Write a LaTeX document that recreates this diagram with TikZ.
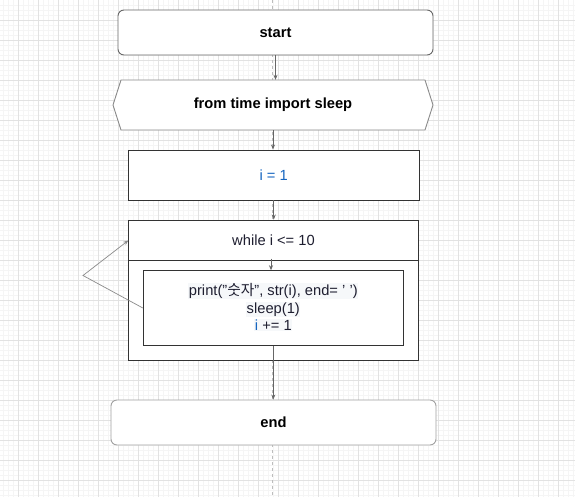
\documentclass[tikz,border=0pt]{standalone}
\usepackage{fontspec}
\setmainfont{Liberation Sans}
\newfontfamily\krfont{Noto Sans CJK KR}
\usetikzlibrary{arrows.meta}
\definecolor{gridmajor}{HTML}{E2E2E2}
\definecolor{gridminor}{HTML}{F5F5F5}
\definecolor{pagebreak}{HTML}{BDBDBD}
\definecolor{boxline}{HTML}{333333}
\definecolor{softline}{HTML}{8A8A8A}
\definecolor{arrowline}{HTML}{666666}
\definecolor{txtdark}{HTML}{1E1E30}
\definecolor{txtblue}{HTML}{1565C0}
\definecolor{codebg}{HTML}{F6F8FA}
\tikzset{
  plainbox/.style={draw=boxline, fill=white, line width=0.9pt, inner sep=0pt},
  roundbox/.style={draw=softline, fill=white, line width=0.9pt, rounded corners=6pt, inner sep=0pt},
  flowarrow/.style={draw=arrowline, line width=0.7pt, -{Stealth[length=5pt,width=4pt]}},
  lbl/.style={font=\fontsize{14.7}{17.5}\selectfont, text=txtdark, align=center},
  boldlbl/.style={font=\fontsize{14.7}{17.5}\selectfont\bfseries, text=black, align=center}
}
\newcommand{\cb}[1]{{\setlength{\fboxsep}{0.5pt}\colorbox{codebg}{#1}}}
\begin{document}
\begin{tikzpicture}[x=1pt,y=-1pt]
\useasboundingbox (0,0) rectangle (575,497);
\fill[white] (0,0) rectangle (575,497);
% grid
\foreach \gx in {3,8,...,573} \draw[gridminor, line width=0.5pt] (\gx,0) -- (\gx,497);
\foreach \gy in {5,10,...,495} \draw[gridminor, line width=0.5pt] (0,\gy) -- (575,\gy);
\foreach \gx in {18,38,...,570} \draw[gridmajor, line width=0.8pt] (\gx,0) -- (\gx,497);
\foreach \gy in {20,40,...,490} \draw[gridmajor, line width=0.8pt] (0,\gy) -- (575,\gy);
% page break line
\draw[pagebreak, line width=0.8pt, dash pattern=on 3pt off 3pt] (272.5,0) -- (272.5,497);

% start
\node[roundbox, draw=arrowline, minimum width=315pt, minimum height=45pt] (start) at (275.5,32.5) {};
\node[boldlbl] (starttxt) at (start.center) {start};
% import hexagon
\draw[softline, fill=white, line width=0.9pt] (113,105) -- (121,80) -- (425,80) -- (433,105) -- (425,130) -- (121,130) -- cycle;
\node[inner sep=0pt, minimum width=320pt, minimum height=50pt] (imp) at (273,105) {};
\node[boldlbl] (imptxt) at (imp.center) {from time import sleep};
% i = 1
\node[plainbox, minimum width=290.5pt, minimum height=50pt] (ione) at (273.75,175) {};
\node[lbl, text=txtblue] (ionetxt) at (ione.center) {i = 1};
% while loop container
\node[plainbox, minimum width=290pt, minimum height=140pt] (while) at (273.5,290) {};
\coordinate (divl) at (128.5,260.5);
\coordinate (divr) at (418.5,260.5);
\draw[boxline, line width=0.9pt] (divl) -- (divr);
\node[inner sep=0pt, minimum width=290pt, minimum height=40pt] (header) at (273.5,240.5) {};
\node[lbl] (whiletxt) at (header.center) {while i \textless= 10};
% inner body
\node[plainbox, minimum width=260pt, minimum height=74.6pt] (inner) at (273.3,308) {};
\node[lbl] (innertxt) at (273.3,307) {\cb{print("{\krfont 숫자}", str(i), end= ' ')}\\\cb{sleep(1)}\\\cb{\textcolor{txtblue}{i} += 1}};
% end
\node[roundbox, draw=softline!80, minimum width=325pt, minimum height=45pt] (end) at (273.5,422.5) {};
\node[boldlbl] (endtxt) at (end.center) {end};

% connectors
\draw[flowarrow] (start.south) -- (start.south |- imp.north);
\draw[flowarrow] (imp.south) -- (imp.south |- ione.north);
\draw[flowarrow] (ione.south) -- (ione.south |- while.north);
\coordinate (hdrout) at (271,258.5);
\draw[flowarrow] (hdrout) -- (hdrout |- inner.north);
\draw[flowarrow] (inner.south) -- (inner.south |- end.north);
\coordinate (loopbend) at (83,275.5);
\draw[flowarrow, draw=softline] (inner.west) -- (loopbend) -- (header.west);
\end{tikzpicture}
\end{document}
